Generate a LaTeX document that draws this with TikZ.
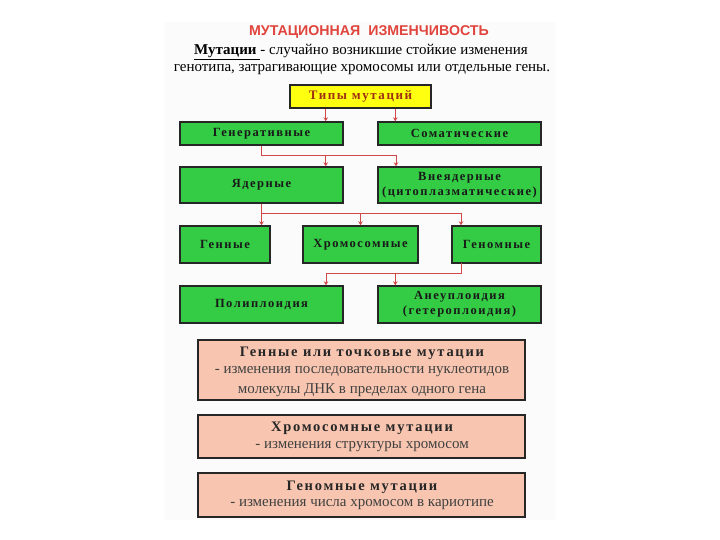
\documentclass[tikz,border=0pt]{standalone}
\usepackage{fontspec}
\setmainfont{Liberation Serif}
\newfontfamily\titlefont{Liberation Sans}
\newfontfamily\boxfont[LetterSpace=12]{Liberation Serif}
\usetikzlibrary{arrows.meta}
\definecolor{gfill}{HTML}{33CC44}
\definecolor{pfill}{HTML}{F8C6B0}
\definecolor{yfill}{HTML}{FFFF10}
\definecolor{arrc}{HTML}{D04848}
\definecolor{titlec}{HTML}{E0443C}
\definecolor{ytext}{HTML}{A03010}
\definecolor{bgc}{HTML}{FBFBFB}
\tikzset{
  gbox/.style={draw=black!85, line width=1.4pt, fill=gfill, inner sep=0pt,
    font=\boxfont\bfseries\fontsize{12.5}{15}\selectfont, text=black!90, align=center},
  pbox/.style={draw=black!85, line width=1.4pt, fill=pfill, inner sep=0pt,
    minimum width=327},
  phead/.style={inner sep=0pt, text=black!85, font=\boxfont\bfseries\fontsize{14.5}{17}\selectfont},
  ptext/.style={inner sep=0pt, text=black!75, font=\fontsize{15}{17}\selectfont},
  ybox/.style={draw=black!85, line width=1.4pt, fill=yfill, inner sep=0pt,
    minimum width=141, minimum height=23, font=\boxfont\bfseries\fontsize{13}{15}\selectfont, text=ytext},
  ln/.style={draw=arrc, line width=0.8pt},
  arr/.style={ln, -{Stealth[length=4pt,width=4.5pt]}}
}
\begin{document}
\begin{tikzpicture}[x=1pt,y=-1pt]
\useasboundingbox (0,0) rectangle (720,540);
\fill[bgc] (165,22) rectangle (555,520);
% header
\node (title) at (369,32) {\titlefont\bfseries\fontsize{14.2}{16}\selectfont\color{titlec}МУТАЦИОННАЯ\ \ ИЗМЕНЧИВОСТЬ};
\node (def1) at (361,52) {\fontsize{15}{17}\selectfont\underline{\textbf{Мутации }}- случайно возникшие стойкие изменения};
\node (def2) at (362,70) {\fontsize{15}{17}\selectfont генотипа, затрагивающие хромосомы или отдельные гены.};
\node[ybox] (types) at (360.5,96.5) {Типы мутаций};
% level 1
\node[gbox, minimum width=163, minimum height=23] (gen) at (261.5,133.5) {Генеративные};
\node[gbox, minimum width=163, minimum height=23] (som) at (459.5,133.5) {Соматические};
% level 2
\node[gbox, minimum width=163, minimum height=36] (yad) at (261.5,185) {Ядерные};
\node[gbox, minimum width=163, minimum height=36] (vne) at (459.5,185) {Внеядерные\\(цитоплазматические)};
% level 3
\node[gbox, minimum width=90, minimum height=37] (genn) at (225,244.5) {Генные};
\node[gbox, minimum width=115, minimum height=37] (hrom) at (360.5,244.5) {Хромосомные};
\node[gbox, minimum width=89, minimum height=37] (geno) at (496.5,244.5) {Геномные};
% level 4
\node[gbox, minimum width=163, minimum height=37] (poly) at (261.5,304.5) {Полиплоидия};
\node[gbox, minimum width=163, minimum height=37] (aneu) at (459.5,304.5) {Анеуплоидия\\(гетероплоидия)};
% pink boxes
\node[pbox, minimum height=60] (p1) at (361.5,370) {};
\node[phead] (p1a) at (362,353) {Генные или точковые мутации};
\node[ptext] (p1b) at (362,371.5) {- изменения последовательности нуклеотидов};
\node[ptext] (p1c) at (362,390) {молекулы ДНК в пределах одного гена};
\node[pbox, minimum height=43] (p2) at (361.5,436.5) {};
\node[phead] (p2a) at (362,428.5) {Хромосомные мутации};
\node[ptext] (p2b) at (362,447) {- изменения структуры хромосом};
\node[pbox, minimum height=44] (p3) at (361.5,495) {};
\node[phead] (p3a) at (362,487) {Геномные мутации};
\node[ptext] (p3b) at (362,505) {- изменения числа хромосом в кариотипе};
% connectors
\draw[arr] ([xshift=-18pt]gen.north east |- types.south) -- ([xshift=-18pt]gen.north east);
\draw[arr] ([xshift=18pt]som.north west |- types.south) -- ([xshift=18pt]som.north west);
\coordinate (b1) at (261.5,155);
\coordinate (b1r) at (396,155);
\draw[ln] (gen.south) -- (b1) -- (b1r);
\draw[arr] ([xshift=-18pt]yad.north east |- b1) -- ([xshift=-18pt]yad.north east);
\draw[arr] (b1r) -- (b1r |- vne.north);
\coordinate (b2) at (261.5,213);
\coordinate (b2r) at (461,213);
\draw[ln] (yad.south) -- (b2) -- (b2r);
\draw[arr] (b2) -- (b2 |- genn.north);
\draw[arr] (hrom.north |- b2) -- (hrom.north);
\draw[arr] (b2r) -- (b2r |- geno.north);
\coordinate (b3t) at (461,263);
\coordinate (b3) at (461,273);
\coordinate (b3l) at (326,273);
\draw[ln] (b3t) -- (b3) -- (b3l);
\draw[arr] (b3l) -- (b3l |- poly.north);
\draw[arr] ([xshift=18pt]aneu.north west |- b3) -- ([xshift=18pt]aneu.north west);
\end{tikzpicture}
\end{document}
